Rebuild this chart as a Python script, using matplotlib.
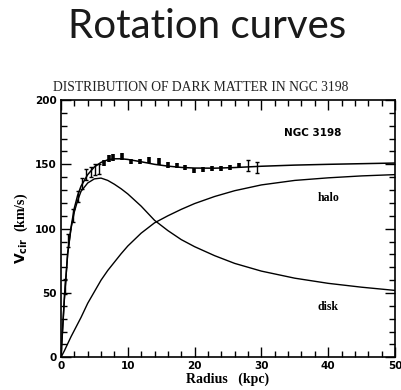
import matplotlib
matplotlib.use("Agg")
import matplotlib.pyplot as plt
from matplotlib.ticker import MultipleLocator
import numpy as np

# Observed rotation curve (NGC 3198)
obs_r = [0.6, 1.1, 1.8, 2.5, 3.2, 3.8, 4.5, 5.1, 5.7, 6.5, 7.2, 7.8, 9.2,
         10.5, 11.8, 13.2, 14.6, 16.0, 17.3, 18.6, 19.9, 21.2, 22.6, 23.95,
         25.3, 26.6, 28.0, 29.4]
obs_v = [55, 91, 110, 125, 135, 142, 144, 146, 146.5, 151, 154.5, 155.3, 156,
         152, 152.5, 153.3, 152.3, 149.5, 148.8, 147.8, 145.5, 146, 146.6, 146.8,
         147.3, 148.8, 149, 147.6]
obs_err = [6, 5, 5, 4, 4, 4, 4, 4, 4, 2.5, 2.5, 2.5, 3,
           2, 2, 2.5, 2.5, 2, 2, 2, 2, 2, 2, 2,
           2, 2, 4, 4]

# Model curves
model_r = [0, 0.5, 1, 1.5, 2, 2.5, 3, 4, 5, 6, 7, 8, 9, 10, 12, 14, 16, 18,
           20, 23, 26, 30, 35, 40, 45, 50]
total_v = [0, 45, 81, 101, 116, 126, 133, 142, 148, 151.5, 153.5, 154.3, 154.3,
           153.8, 152, 150, 148.6, 147.6, 147.1, 147, 147.5, 148.5, 149.4, 150,
           150.5, 151]
disk_v = [0, 45, 80, 100, 113, 122, 129, 135.5, 138.7, 139.3, 137.5, 134.5, 131,
          127, 117.5, 106.5, 98.5, 91.5, 86, 79, 73, 67, 61.5, 57.5, 54.5, 52]
halo_v = [0, 5, 10.5, 16, 21, 26, 31, 42, 51, 60, 67.5, 74, 80.5, 86.5, 96.5,
          104.5, 110, 115, 119.5, 125, 129.5, 134, 137.5, 139.5, 141, 142]

xticks = [0, 10, 20, 30, 40, 50]
yticks = [0, 50, 100, 150, 200]

fig = plt.figure(figsize=(4.02, 3.90), dpi=100)
fig.patch.set_facecolor("white")

fig.text(207 / 402, 1 - 38 / 390, "Rotation curves", ha="center", va="baseline",
         fontsize=29, family="Lato", fontweight="normal", color="#1a1a1a")
fig.text(0.5, 0.776, "DISTRIBUTION OF DARK MATTER IN NGC 3198", ha="center",
         va="center", fontsize=9.8, family="Liberation Serif", color="#222222")

ax = fig.add_axes([0.1517, 0.0838, 0.8309, 0.6598])
ax.plot(model_r, total_v, color="black", lw=1.1)
ax.plot(model_r, disk_v, color="black", lw=1.0)
ax.plot(model_r, halo_v, color="black", lw=1.0)

r = np.array(obs_r); v = np.array(obs_v); e = np.array(obs_err)
thin = np.r_[0:9, 26:28]
thick = np.r_[9:26]
ax.errorbar(r[thin], v[thin], yerr=e[thin], fmt="none", ecolor="black",
            elinewidth=1.0, capsize=1.6, capthick=1.0)
ax.errorbar(r[thick], v[thick], yerr=e[thick], fmt="none", ecolor="black",
            elinewidth=2.6, capsize=0)

ax.set_xlim(0, 50)
ax.set_ylim(0, 200)
ax.set_xticks(xticks)
ax.set_yticks(yticks)
ax.xaxis.set_minor_locator(MultipleLocator(2))
ax.yaxis.set_minor_locator(MultipleLocator(10))
ax.tick_params(which="both", direction="in", top=True, right=True,
               width=1.0, labelsize=7.5, pad=3)
ax.tick_params(which="major", length=7)
ax.tick_params(which="minor", length=4)
for lab in ax.get_xticklabels() + ax.get_yticklabels():
    lab.set_fontweight("bold")
    lab.set_family("DejaVu Sans")
for s in ax.spines.values():
    s.set_linewidth(1.2)

ax.set_xlabel("Radius   (kpc)", fontsize=10, family="Liberation Serif",
              fontweight="bold", labelpad=1)
ax.set_ylabel(r"$\mathbf{V_{cir}}$  (km/s)", fontsize=10, family="Liberation Serif",
              fontweight="bold", labelpad=4)

ax.text(37.7, 174.5, "NGC 3198", ha="center", va="center", fontsize=7.5,
        fontweight="bold", family="DejaVu Sans")
ax.text(40, 124, "halo", ha="center", va="center", fontsize=8.5,
        fontweight="bold", family="Liberation Serif")
ax.text(40, 39.4, "disk", ha="center", va="center", fontsize=8.5,
        fontweight="bold", family="Liberation Serif")

fig.savefig("out.png", dpi=100, facecolor="white")
